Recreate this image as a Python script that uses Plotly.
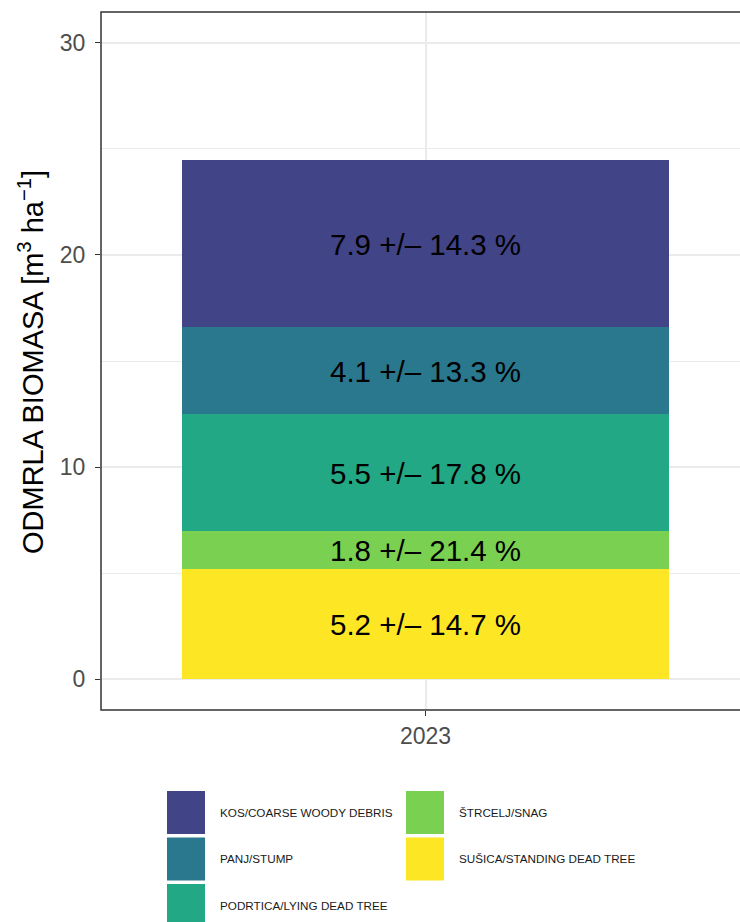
import plotly.graph_objects as go

# Dead wood volume components for 2023 (legend / factor order)
categories = [
    "KOS/COARSE WOODY DEBRIS",
    "PANJ/STUMP",
    "PODRTICA/LYING DEAD TREE",
    "ŠTRCELJ/SNAG",
    "SUŠICA/STANDING DEAD TREE",
]
volumes = [7.9, 4.1, 5.5, 1.8, 5.2]          # m3/ha
rel_errors = [14.3, 13.3, 17.8, 21.4, 14.7]  # %
colors = ["#414487", "#2A788E", "#22A884", "#7AD151", "#FDE725"]
years = ["2023"]
y_ticks = [0, 10, 20, 30]
y_minor = [5, 15, 25]

FONT = "Liberation Sans, Arial, Helvetica, sans-serif"
W, H = 740, 922
ML, MR, MT, MB = 101, 0, 12, 212
PW, PH = W - ML - MR, H - MT - MB


def px_x(px):
    return (px - ML) / PW


def px_y(py):
    return (H - MB - py) / PH


fig = go.Figure()
annotations = []
shapes = []

# stacked bar: first factor level sits on top, so add in reverse
base = 0.0
for name, v, e, c in reversed(list(zip(categories, volumes, rel_errors, colors))):
    fig.add_bar(
        x=years, y=[v], name=name, width=0.9,
        marker=dict(color=c, line=dict(width=0)),
        showlegend=False, hoverinfo="skip",
    )
    annotations.append(dict(
        x=0, y=base + v / 2, xref="x", yref="y",
        text=f"{v:.1f} +/\u2013 {e:.1f} %", showarrow=False,
        font=dict(size=29.5, color="black", family=FONT),
        xanchor="center", yanchor="middle", yshift=-1,
    ))
    base += v

# y-axis title
annotations.append(dict(
    x=px_x(31), y=px_y(362), xref="paper", yref="paper",
    text="ODMRLA BIOMASA [m<sup>3</sup> ha<sup>\u22121</sup>]",
    textangle=-90, showarrow=False,
    font=dict(size=29, color="black", family=FONT),
    xanchor="center", yanchor="middle",
))

# panel border
shapes.append(dict(
    type="rect", xref="paper", yref="paper", x0=0, y0=0, x1=1.05, y1=1,
    line=dict(color="#333333", width=1.5), fillcolor="rgba(0,0,0,0)", layer="above",
))

# legend, two columns filled column-wise
for i, (name, c) in enumerate(zip(categories, colors)):
    col, row = i // 3, i % 3
    kx0 = 167 + col * 239
    ky0 = 791 + row * 46.5
    shapes.append(dict(
        type="rect", xref="paper", yref="paper",
        x0=px_x(kx0), x1=px_x(kx0 + 38), y0=px_y(ky0 + 43), y1=px_y(ky0),
        line=dict(width=0), fillcolor=c,
    ))
    annotations.append(dict(
        x=px_x(kx0 + 51), y=px_y(ky0 + 21.5), xref="paper", yref="paper",
        text=name, showarrow=False, xanchor="left", yanchor="middle",
        font=dict(size=11.7, color="#1a1a1a", family=FONT),
    ))

fig.update_layout(
    width=W, height=H,
    margin=dict(l=ML, r=MR, t=MT, b=MB, pad=0),
    barmode="stack",
    bargap=0,
    paper_bgcolor="white", plot_bgcolor="white",
    font=dict(family=FONT),
    annotations=annotations,
    shapes=shapes,
    showlegend=False,
)

fig.update_xaxes(
    type="category", range=[-0.6, 0.5813],
    showgrid=True, gridcolor="#EBEBEB", gridwidth=1.6,
    zeroline=False, showline=False,
    ticks="outside", ticklen=5, tickwidth=1.4, tickcolor="#333333",
    tickfont=dict(size=23, color="#4D4D4D", family=FONT),
)
fig.update_yaxes(
    range=[-1.46, 31.46], tickvals=y_ticks,
    showgrid=True, gridcolor="#EBEBEB", gridwidth=1.6,
    minor=dict(tickvals=y_minor, showgrid=True, gridcolor="#EBEBEB", gridwidth=0.9, ticks=""),
    zeroline=False, showline=False,
    ticks="outside", ticklen=5, tickwidth=1.4, tickcolor="#333333",
    ticklabelstandoff=5,
    tickfont=dict(size=23, color="#4D4D4D", family=FONT),
)

fig.write_html("out.html")
